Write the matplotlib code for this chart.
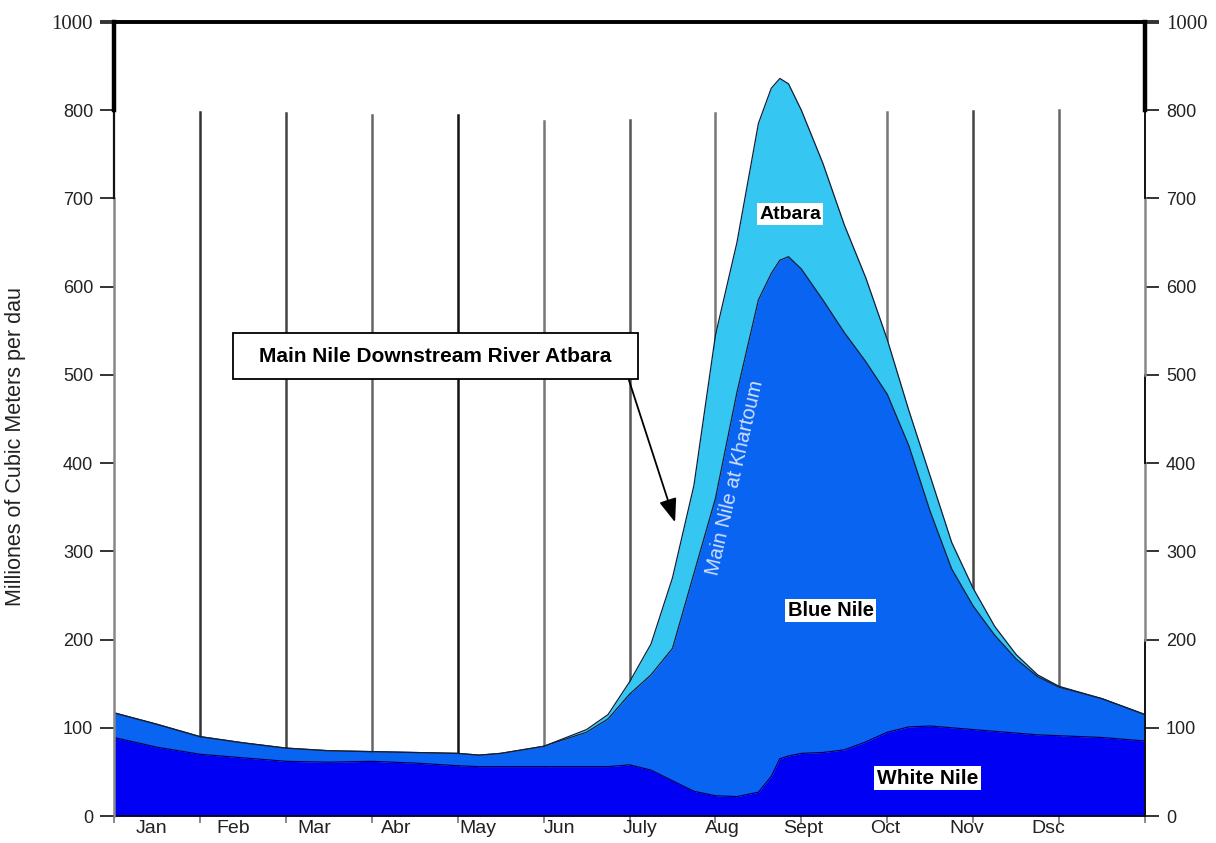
import matplotlib.pyplot as plt
from matplotlib.patches import Rectangle

# month positions (0 = start of Jan, 12 = end of Dec)
x = [0, 0.5, 1, 1.5, 2, 2.5, 3, 3.5, 4, 4.25, 4.5, 5, 5.5, 5.75, 6, 6.25, 6.5, 6.75,
     7, 7.25, 7.5, 7.65, 7.75, 7.85, 8, 8.25, 8.5, 8.75, 9, 9.25, 9.5, 9.75,
     10, 10.25, 10.5, 10.75, 11, 11.5, 12]

# White Nile flow
white_nile = [89, 78, 70, 66, 62, 61, 62, 60, 57, 56, 56, 56, 56, 56, 58, 52, 40, 28,
              23, 22, 27, 45, 65, 68, 71, 72, 75, 84, 95, 101, 102, 100,
              98, 96, 94, 92, 91, 89, 85]

# Main Nile at Khartoum (White + Blue Nile)
khartoum = [117, 104, 90, 83, 77, 74, 73, 72, 71, 69, 71, 79, 95, 110, 138, 160, 190, 275,
            360, 480, 585, 615, 630, 634, 620, 585, 548, 515, 478, 420, 345, 280,
            238, 205, 178, 158, 146, 133, 115]

# Main Nile downstream of Atbara (Khartoum + Atbara)
downstream = [117, 104, 90, 83, 77, 74, 73, 72, 71, 69, 71, 79, 98, 115, 152, 195, 270, 375,
              545, 650, 785, 825, 836, 830, 800, 740, 670, 610, 540, 460, 385, 310,
              258, 215, 183, 160, 147, 133, 115]

months = ['Jan', 'Feb', 'Mar', 'Abr', 'May', 'Jun', 'July', 'Aug', 'Sept', 'Oct', 'Nov', 'Dsc']
grid_tops = [798, 797, 795, 795, 788, 789, 797, 797, 798, 799, 800]
grid_bottoms = [0, 0, 0, 0, 0, 0, 0, 585, 0, 0, 0]
grid_colors = ['#333333', '#444444', '#666666', '#111111', '#777777', '#555555',
               '#777777', '#777777', '#777777', '#444444', '#666666']

yticks = [0, 100, 200, 300, 400, 500, 600, 700, 800, 900]
ytick_labels = ['0', '100', '200', '300', '400', '500', '600', '700', '800', '1000']

plt.rcParams['font.family'] = ['Liberation Sans', 'DejaVu Sans']

fig = plt.figure(figsize=(12.16, 8.43), dpi=100)
ax = fig.add_axes([0.09375, 0.032, 0.8479, 0.9419])

# vertical month lines behind the areas
for i, (y0, top, c) in enumerate(zip(grid_bottoms, grid_tops, grid_colors)):
    ax.plot([i + 1, i + 1], [y0, top], color=c, lw=1.8, zorder=1)

ax.fill_between(x, khartoum, downstream, color='#35c6f2', zorder=2, lw=0)
ax.fill_between(x, white_nile, khartoum, color='#0a64f2', zorder=2, lw=0)
ax.fill_between(x, 0, white_nile, color='#0000f5', zorder=2, lw=0)
ax.plot(x, downstream, color='#10203a', lw=0.9, zorder=3)
ax.plot(x, khartoum, color='#10203a', lw=0.9, zorder=3)
ax.plot(x, white_nile, color='#000060', lw=0.9, zorder=3)

ax.set_xlim(0, 12)
ax.set_ylim(0, 900)

# spines drawn as segments of different weight
for s in ['left', 'right']:
    ax.spines[s].set_visible(False)
ax.spines['top'].set_linewidth(2.8)
ax.spines['bottom'].set_linewidth(1.2)

segs_left = [(0, 700, '#888888', 1.8), (700, 800, '#111111', 1.6), (800, 900, '#000000', 3.2)]
segs_right = [(0, 200, '#111111', 1.4), (200, 400, '#888888', 1.8), (400, 500, '#111111', 1.4),
              (500, 700, '#888888', 1.8), (700, 800, '#111111', 1.4), (800, 900, '#000000', 3.2)]
for y0, y1, c, lw in segs_left:
    ax.plot([0, 0], [y0, y1], color=c, lw=lw, clip_on=False, zorder=4)
for y0, y1, c, lw in segs_right:
    ax.plot([12, 12], [y0, y1], color=c, lw=lw, clip_on=False, zorder=4)

ax.set_yticks(yticks)
ax.set_yticklabels(ytick_labels)
ax.tick_params(axis='y', direction='out', length=10, width=1.4, color='#333333',
               labelsize=13, labelcolor='#222222', pad=5,
               left=True, right=True, labelleft=True, labelright=True)
ax.tick_params(axis='y', which='major', pad=5)
ticks = ax.yaxis.get_major_ticks()
for lab in (ticks[-1].label1, ticks[-1].label2):
    lab.set_fontfamily('Liberation Serif')
    lab.set_fontsize(15)
for ln in (ticks[-1].tick1line, ticks[-1].tick2line):
    ln.set_markeredgewidth(2.8)
    ln.set_color('black')

ax.set_xticks(range(13))
ax.set_xticklabels([])
ax.set_xticks([0.44 + 0.948 * i for i in range(12)], minor=True)
ax.set_xticklabels(months, minor=True)
ax.tick_params(axis='x', which='major', direction='out', length=5, width=1.2, color='#777777')
ax.tick_params(axis='x', which='minor', length=0, labelsize=14, labelcolor='#222222', pad=3)

ax.set_ylabel('Milliones of Cubic Meters per dau', fontsize=15.5, color='#222222')
ax.yaxis.set_label_coords(-0.085, 0.466)

box = dict(boxstyle='square,pad=0.12', fc='white', ec='none')
ax.text(7.87, 682, 'Atbara', fontsize=14, fontweight='bold', ha='center', va='center', bbox=box, zorder=5)
ax.text(8.34, 233, 'Blue Nile', fontsize=14.5, fontweight='bold', ha='center', va='center', bbox=box, zorder=5)
ax.text(9.47, 43, 'White Nile', fontsize=15, fontweight='bold', ha='center', va='center', bbox=box, zorder=5)
ax.text(7.23, 383, 'Main Nile at Khartoum', fontsize=14.5, color='#d0e0ff', rotation=77,
        ha='center', va='center', zorder=5)

# callout box with arrow
ax.add_patch(Rectangle((1.384, 495), 6.093 - 1.384, 52, fc='white', ec='black', lw=1.3, zorder=6))
ax.text(3.74, 521, 'Main Nile Downstream River Atbara', fontsize=15, fontweight='bold',
        ha='center', va='center', zorder=7)
ax.annotate('', xy=(6.53, 333), xytext=(5.99, 495), zorder=7,
            arrowprops=dict(arrowstyle='-|>,head_length=1.2,head_width=0.45', mutation_scale=12,
                            color='black', lw=1.3, shrinkA=0, shrinkB=0))

fig.savefig('out.png', dpi=100)
